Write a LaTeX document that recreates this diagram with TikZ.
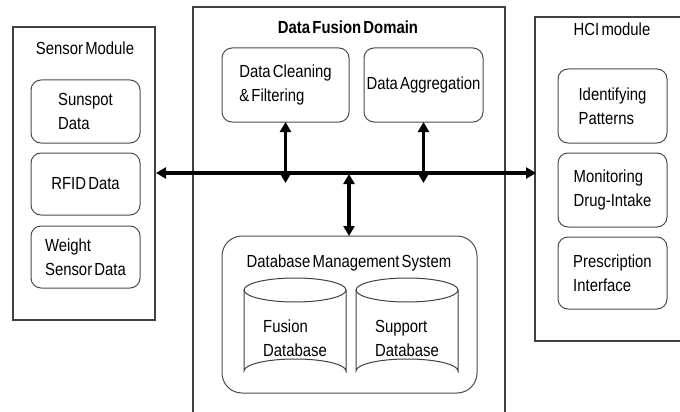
\documentclass[tikz,border=0pt]{standalone}
\usepackage{fontspec}
\setmainfont[FakeStretch=0.85,WordSpace=0.55]{Liberation Sans}
\usetikzlibrary{arrows.meta}
\begin{document}
\begin{tikzpicture}[x=1pt,y=-1pt,
  every node/.style={font=\fontsize{17.5}{24}\selectfont, inner sep=0pt, outer sep=0pt},
  outerbox/.style={draw=black!75, line width=1.3pt, rectangle},
  subbox/.style={draw=black!70, line width=1pt, rounded corners=10pt, rectangle},
  txt/.style={align=left},
  bus/.style={line width=3.3pt, {Triangle[length=10pt,width=11pt]}-{Triangle[length=10pt,width=11pt]}},
  cyl/.style={draw=black!75, line width=1pt}
]
\useasboundingbox (0,0) rectangle (680,412);
\fill[white] (0,0) rectangle (680,412);

% outer modules
\node[outerbox, minimum width=142pt, minimum height=293pt] (sensor) at (84,173.5) {};
\node[outerbox, minimum width=312pt, minimum height=420pt] (fusion) at (349,217) {};
\node[outerbox, minimum width=150pt, minimum height=324pt] (hci) at (610,179) {};

% titles
\node (sensorT) at (85,48) {Sensor Module};
\node (fusionT) at (348,27) {\bfseries Data Fusion Domain};
\node (hciT) at (612,29) {HCI module};

% sensor sub boxes
\node[subbox, minimum width=109pt, minimum height=63pt] (sun) at (85.5,111.5) {};
\node[txt] at (sun) {Sunspot\\Data};
\node[subbox, minimum width=109pt, minimum height=62pt] (rfid) at (85.5,184) {};
\node[txt] at (rfid) {RFID Data};
\node[subbox, minimum width=109pt, minimum height=62pt] (weight) at (85.5,257) {};
\node[txt] at (weight) {Weight\\Sensor Data};

% fusion sub boxes
\node[subbox, minimum width=127pt, minimum height=74pt] (clean) at (285.5,85) {};
\node[txt] at (clean) {Data Cleaning\\\& Filtering};
\node[subbox, minimum width=119pt, minimum height=74pt] (aggr) at (423.5,85) {};
\node[txt] at (aggr) {Data Aggregation};

% DBMS
\node[subbox, rounded corners=20pt, minimum width=255pt, minimum height=157pt] (dbms) at (349.5,314.5) {};
\node (dbmsT) at (349,263) {Database Management System};

% cylinders
\foreach \cx/\nm in {295/fdb, 407/sdb}{
  \draw[cyl] (\cx-51,290) -- (\cx-51,371) arc[start angle=180, end angle=360, x radius=51, y radius=12] -- (\cx+51,290);
  \draw[cyl] (\cx,290) ellipse[x radius=51, y radius=12];
}
\node[txt] (fdb) at (295,338) {Fusion\\Database};
\node[txt] (sdb) at (407,338) {Support\\Database};

% HCI sub boxes
\node[subbox, minimum width=109pt, minimum height=74pt] (ident) at (612.5,106) {};
\node[txt] at (ident) {Identifying\\Patterns};
\node[subbox, minimum width=109pt, minimum height=74pt] (monit) at (612.5,190) {};
\node[txt] at (monit) {Monitoring\\Drug-Intake};
\node[subbox, minimum width=109pt, minimum height=72pt] (presc) at (612.5,273) {};
\node[txt] at (presc) {Prescription\\Interface};

% bus
\coordinate (busL) at (sensor.east |- 0,173);
\coordinate (busR) at (hci.west |- 0,173);
\draw[bus] ([xshift=1pt]busL) -- ([xshift=1pt]busR);
\coordinate (c1) at (clean.south |- 0,183);
\coordinate (c2) at (aggr.south |- 0,183);
\draw[bus] (clean.south) -- (c1);
\draw[bus] (aggr.south) -- (c2);
\coordinate (c3) at (349,174);
\draw[bus] (c3) -- (dbms.north -| c3);
\end{tikzpicture}
\end{document}
